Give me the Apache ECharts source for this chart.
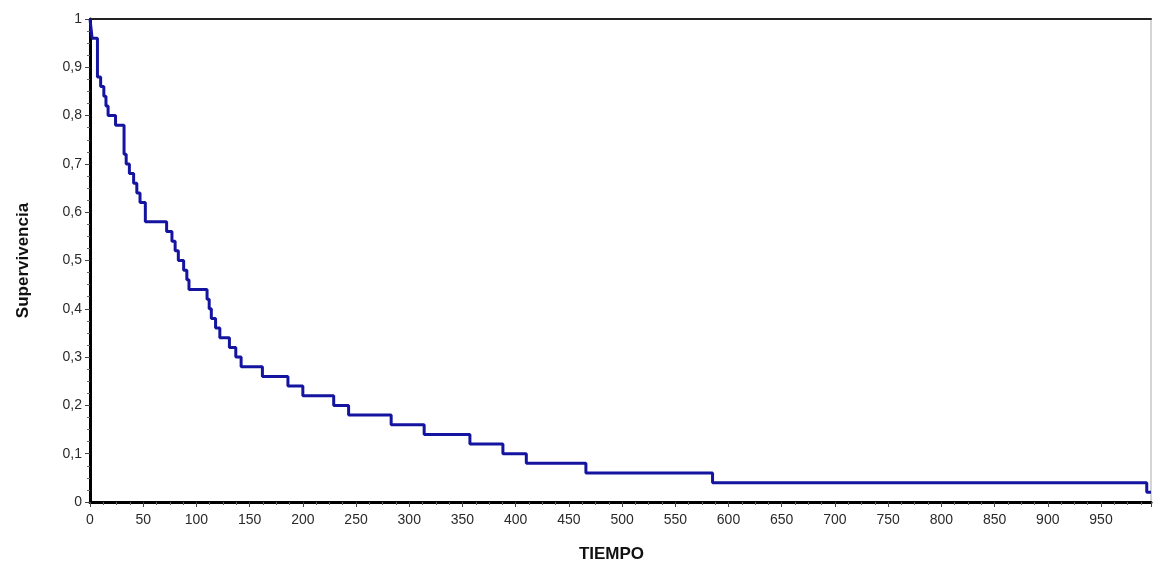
<!DOCTYPE html>
<html>
<head>
<meta charset="utf-8">
<script src="https://cdn.jsdelivr.net/npm/echarts@6/dist/echarts.min.js"></script>
<style>
  html, body { margin: 0; padding: 0; background: #fff; }
  #chart { width: 1154px; height: 570px; }
</style>
</head>
<body>
<div id="chart"></div>
<script>
// tiempos (eje x) y supervivencia estimada en cada evento
const tiempos = [0, 1, 2, 7, 10, 13, 15, 17, 24, 32, 34, 37, 41, 44, 47, 52, 72, 77, 80, 83, 88, 91, 93,
  110, 112, 114, 118, 122, 131, 137, 142, 162, 186, 200, 229, 243, 283, 314, 357, 388, 410, 466, 585, 993, 997];
const supervivencia = [1, 0.98, 0.96, 0.88, 0.86, 0.84, 0.82, 0.80, 0.78, 0.72, 0.70, 0.68, 0.66, 0.64, 0.62, 0.58, 0.56, 0.54, 0.52, 0.50, 0.48, 0.46, 0.44,
  0.42, 0.40, 0.38, 0.36, 0.34, 0.32, 0.30, 0.28, 0.26, 0.24, 0.22, 0.20, 0.18, 0.16, 0.14, 0.12, 0.10, 0.08, 0.06, 0.04, 0.02, 0.02];
const xMax = 997;

const seriesData = tiempos.map((t, i) => [t, supervivencia[i]]);

const myChart = echarts.init(document.getElementById('chart'));
const fontFam = '"Liberation Sans", Arial, sans-serif';
const option = {
    animation: false,
    backgroundColor: '#fff',
    grid: {
        left: 90,
        right: 2,
        top: 19,
        bottom: 68,
        show: true,
        borderColor: '#aaa',
        borderWidth: 1,
        backgroundColor: '#fff'
    },
    xAxis: [
        {
            type: 'value',
            min: 0,
            max: xMax,
            interval: 50,
            name: 'TIEMPO',
            nameLocation: 'middle',
            nameGap: 44,
            nameTextStyle: { fontFamily: fontFam, fontWeight: 'bold', fontSize: 17, color: '#111', padding: [0, 18, 0, 0] },
            axisLine: { show: true, onZero: false, lineStyle: { color: '#000', width: 3 } },
            axisTick: { show: true, length: 5, lineStyle: { color: '#444', width: 1 } },
            minorTick: { show: true, splitNumber: 4, length: 3, lineStyle: { color: '#666' } },
            splitLine: { show: false },
            axisLabel: {
                margin: 11,
                fontFamily: fontFam,
                fontSize: 14,
                color: '#2a2a2a',
                formatter: v => (v % 50 === 0 ? String(v) : '')
            }
        },
        {
            type: 'value',
            position: 'top',
            min: 0,
            max: xMax,
            axisLine: { show: true, onZero: false, lineStyle: { color: '#222', width: 2 } },
            axisTick: { show: false },
            axisLabel: { show: false },
            splitLine: { show: false }
        }
    ],
    yAxis: [
        {
            type: 'value',
            min: 0,
            max: 1,
            interval: 0.1,
            name: 'Supervivencia',
            nameLocation: 'middle',
            nameGap: 58,
            nameTextStyle: { fontFamily: fontFam, fontWeight: 'bold', fontSize: 17, color: '#111' },
            axisLine: { show: true, onZero: false, lineStyle: { color: '#000', width: 3 } },
            axisTick: { show: true, length: 5, lineStyle: { color: '#444', width: 1 } },
            minorTick: { show: true, splitNumber: 4, length: 3, lineStyle: { color: '#666' } },
            splitLine: { show: false },
            axisLabel: {
                margin: 8,
                fontFamily: fontFam,
                fontSize: 14,
                color: '#2a2a2a',
                formatter: v => {
                    if (v === 0 || v === 1) return String(v);
                    return v.toFixed(1).replace('.', ',');
                }
            }
        }
    ],
    series: [
        {
            name: 'Supervivencia',
            type: 'line',
            step: 'end',
            data: seriesData,
            showSymbol: false,
            lineStyle: { color: '#1414a0', width: 3 },
            itemStyle: { color: '#1414a0' }
        }
    ]
};
myChart.setOption(option);
</script>
</body>
</html>
